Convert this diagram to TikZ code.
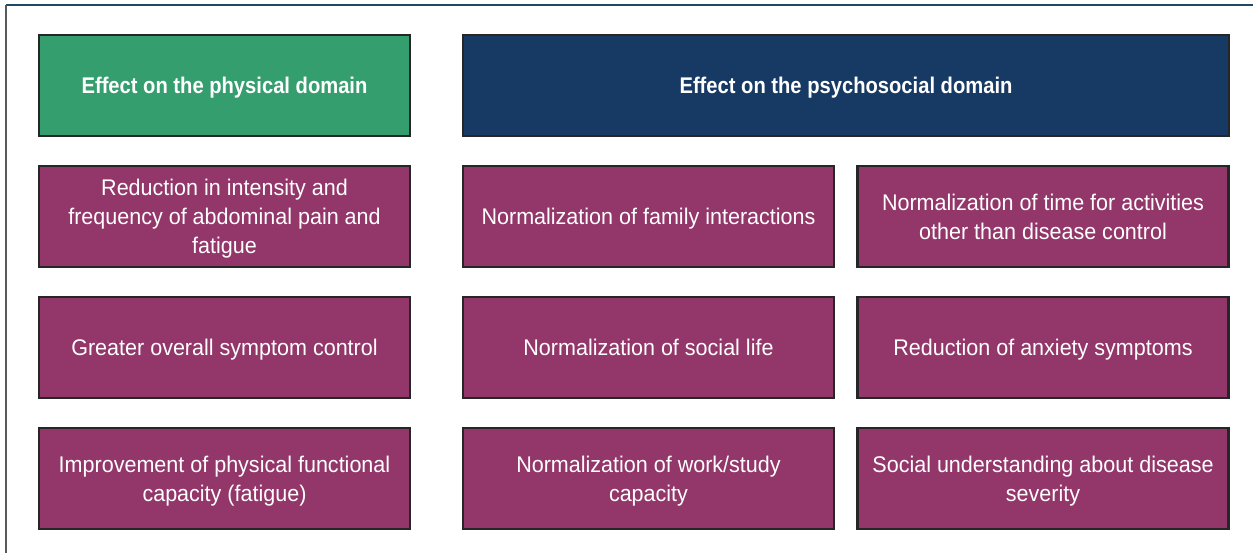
\documentclass[tikz,border=0pt]{standalone}
\usepackage{fontspec}
\setmainfont{Liberation Sans}[FakeStretch=0.95]
\newfontfamily\headfont{Liberation Sans}[FakeStretch=0.89]
\usetikzlibrary{positioning}

\definecolor{physgreen}{HTML}{349E6F}
\definecolor{psynavy}{HTML}{173A64}
\definecolor{itemplum}{HTML}{93366A}
\definecolor{framebar}{HTML}{1E4A66}

\tikzset{
    box/.style = {draw=black!85, line width = 1.9pt, text = white, align = center,
        minimum width = 278pt, minimum height = 75.75pt, inner sep = 0pt,
        text depth = 0pt, font = \fontsize{17}{21.75}\selectfont},
    headphys/.style = {box, fill = physgreen, font = \headfont\fontsize{17}{21}\selectfont\bfseries},
    headpsy/.style = {box, fill = psynavy, minimum width = 574.5pt,
        font = \headfont\fontsize{17}{21}\selectfont\bfseries},
    item/.style = {box, fill = itemplum}
}

\begin{document}
\begin{tikzpicture}[x = 0.75pt, y = -0.75pt]
        \useasboundingbox (0,0) rectangle (1253,553);

        %枠線
        \draw[line width = 2.2pt, framebar] (6,5)--(1253,5);
        \draw[line width = 1.1pt, black!65] (6,5)--(6,553);

        %見出し
        \node[headphys] (phys) at (224.5,85.5) {Effect on the physical domain};
        \node[headpsy] (psy) at (846,85.5) {Effect on the psychosocial domain};

        %身体面
        \node[item] (pain) at (224.5,216.5) {Reduction in intensity and\\frequency of abdominal pain and\\fatigue};
        \node[item] (symptom) at (224.5,347.5) {Greater overall symptom control};
        \node[item] (capacity) at (224.5,478.5) {Improvement of physical functional\\capacity (fatigue)};

        %心理社会面
        \node[item] (family) at (648.5,216.5) {Normalization of family interactions};
        \node[item] (social) at (648.5,347.5) {Normalization of social life};
        \node[item] (work) at (648.5,478.5) {Normalization of work/study\\capacity};

        \node[item] (time) at (1043,216.5) {Normalization of time for activities\\other than disease control};
        \node[item] (anxiety) at (1043,347.5) {Reduction of anxiety symptoms};
        \node[item] (severity) at (1043,478.5) {Social understanding about disease\\severity};
    \end{tikzpicture}
\end{document}
